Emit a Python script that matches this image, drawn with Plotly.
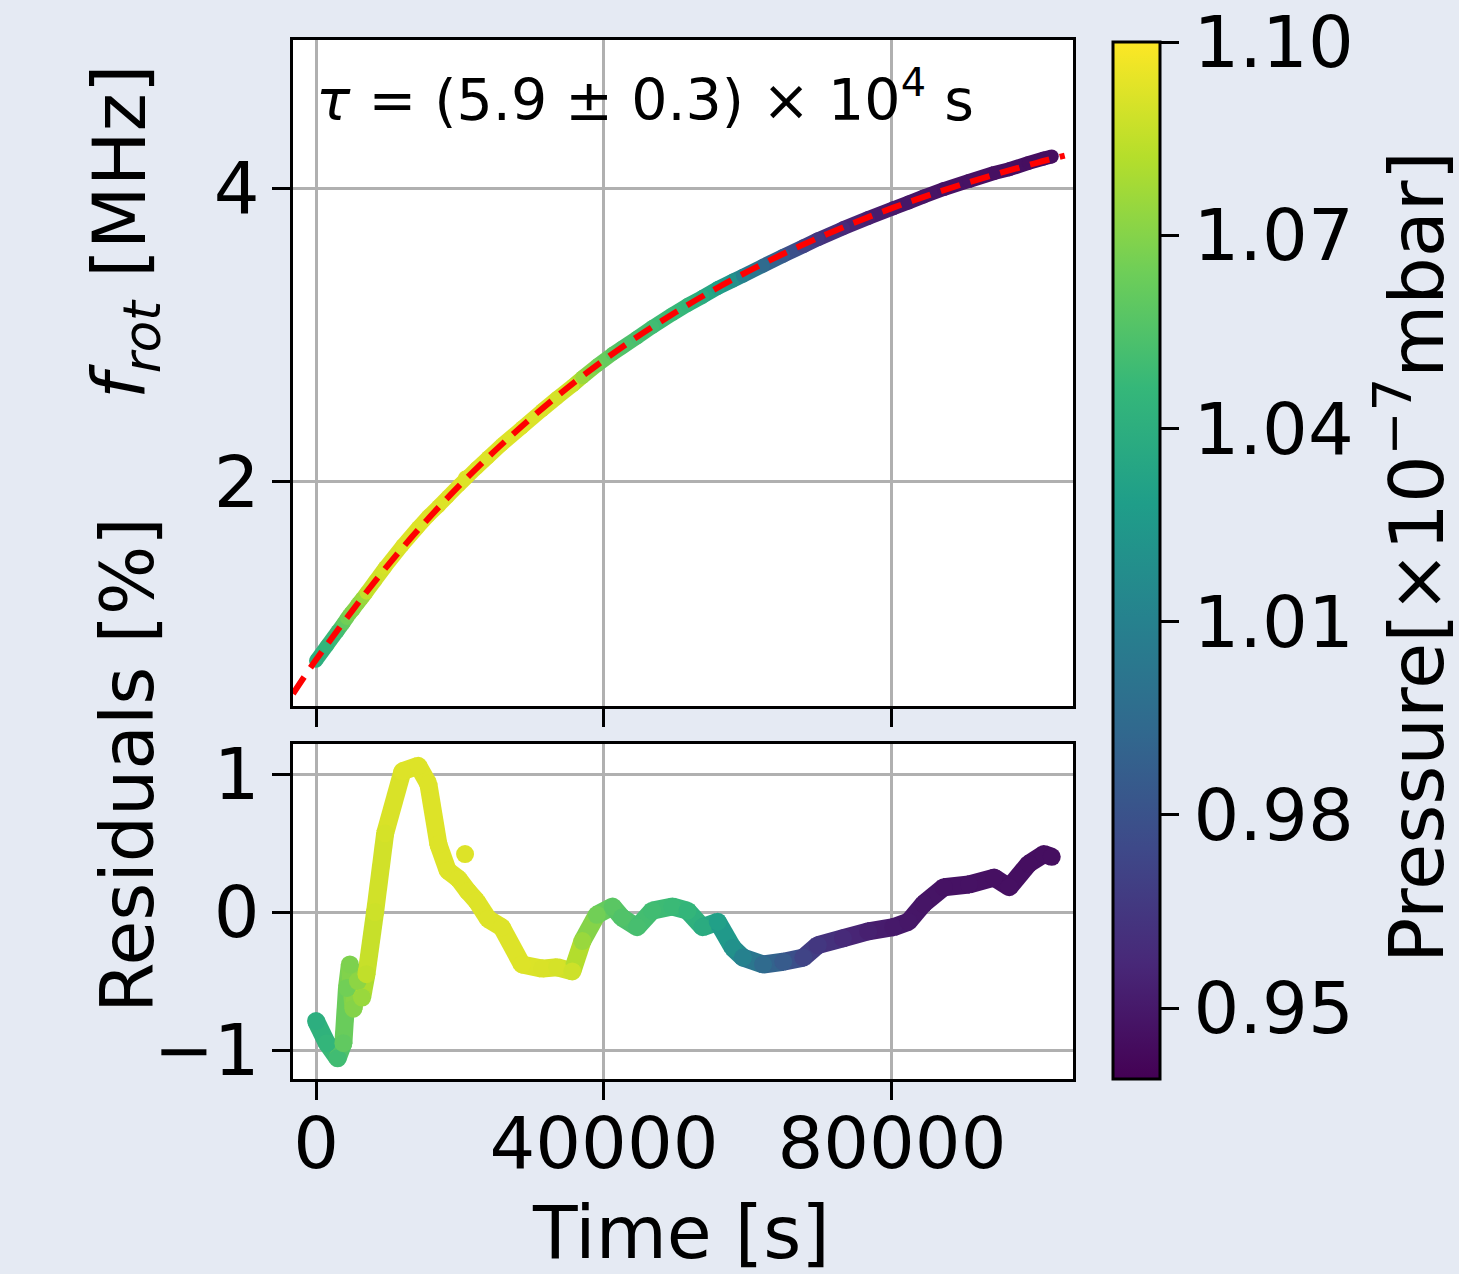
import plotly.graph_objects as go
from plotly.colors import sample_colorscale

# ---------------- data ----------------
time_s = [0, 1500, 3000, 3800, 4300, 4700, 5200, 5800, 6400, 7000, 8200, 9600,
          12000, 14200, 15600, 17000, 18300, 19800, 21100, 22300, 23900, 25800,
          28600, 31400, 33500, 35600, 37000, 39000, 41200, 42500, 44600, 46700,
          49500, 51600, 53700, 55800, 57900, 59300, 62100, 64900, 67700, 69700,
          73200, 76700, 80200, 82300, 84400, 87200, 90700, 94200, 96300, 99000,
          101100, 102200]
f_rot_mhz = [0.784, 0.885, 0.985, 1.038, 1.075, 1.103, 1.131, 1.172, 1.208, 1.247,
             1.327, 1.420, 1.568, 1.693, 1.768, 1.835, 1.900, 1.975, 2.038, 2.095,
             2.168, 2.254, 2.371, 2.488, 2.573, 2.654, 2.713, 2.792, 2.872, 2.914,
             2.983, 3.054, 3.142, 3.204, 3.260, 3.320, 3.370, 3.403, 3.472, 3.539,
             3.604, 3.651, 3.726, 3.796, 3.862, 3.901, 3.942, 3.993, 4.048, 4.102,
             4.128, 4.171, 4.201, 4.214]
residual_pct = [-0.79, -0.95, -1.06, -0.95, -0.55, -0.38, -0.70, -0.50, -0.62, -0.45,
                0.00, 0.57, 1.02, 1.06, 0.93, 0.49, 0.30, 0.24, 0.15, 0.08,
                -0.05, -0.11, -0.38, -0.41, -0.40, -0.43, -0.21, -0.02, 0.04, -0.04,
                -0.11, 0.01, 0.04, 0.01, -0.11, -0.07, -0.26, -0.33, -0.38, -0.36,
                -0.33, -0.24, -0.19, -0.14, -0.11, -0.07, 0.06, 0.18, 0.20, 0.25,
                0.18, 0.35, 0.42, 0.40]
pressure = [1.040, 1.045, 1.050, 1.060, 1.065, 1.068, 1.070, 1.072, 1.075, 1.085,
            1.088, 1.090, 1.092, 1.092, 1.092, 1.092, 1.092, 1.092, 1.092, 1.092,
            1.092, 1.092, 1.092, 1.091, 1.090, 1.088, 1.075, 1.065, 1.058, 1.055,
            1.052, 1.050, 1.048, 1.045, 1.038, 1.030, 1.020, 1.010, 0.995, 0.985,
            0.972, 0.965, 0.958, 0.953, 0.950, 0.949, 0.948, 0.947, 0.947, 0.946,
            0.946, 0.945, 0.945, 0.945]

# isolated outlier point
out_time = [20700]
out_f = [2.030]
out_res = [0.42]
out_p = [1.092]

# fitted curve (tau = 5.9e4 s)
fit_time = [-3200, 0, 10000, 20000, 30000, 40000, 50000, 60000, 70000, 80000,
            90000, 100000, 104000]
fit_f = [0.559, 0.79, 1.435, 1.98, 2.44, 2.83, 3.156, 3.433, 3.666, 3.863,
         4.029, 4.17, 4.22]

x_ticks = [0, 40000, 80000]
x_ticktext = ["0", "40000", "80000"]
top_yticks = [2, 4]
bot_yticks = [-1, 0, 1]
bot_yticktext = ["\u22121", "0", "1"]
cbar_ticks = [0.95, 0.98, 1.01, 1.04, 1.07, 1.10]
cbar_ticktext = ["0.95", "0.98", "1.01", "1.04", "1.07", "1.10"]

# ---------------- styling ----------------
W, H = 1459, 1274
CMIN, CMAX = 0.939, 1.10
FONT = "DejaVu Sans"
BG = "#e5eaf3"


def px_x(p):
    return p / W


def px_y(p):
    return 1 - p / H


def vcol(p):
    v = (p - CMIN) / (CMAX - CMIN)
    v = min(max(v, 0), 1)
    return sample_colorscale("Viridis", [v])[0]


fig = go.Figure()

# colored thick lines made of segments (top: xaxis/yaxis, bottom: xaxis2/yaxis2)
for panel, yvals, w in (("top", f_rot_mhz, 14), ("bot", residual_pct, 18)):
    xa, ya = ("x", "y") if panel == "top" else ("x2", "y2")
    for i in range(len(time_s) - 1):
        c = vcol((pressure[i] + pressure[i + 1]) / 2)
        fig.add_trace(go.Scatter(
            x=[time_s[i], time_s[i + 1]], y=[yvals[i], yvals[i + 1]],
            mode="lines", line=dict(color=c, width=w),
            xaxis=xa, yaxis=ya, showlegend=False, hoverinfo="skip"))
    fig.add_trace(go.Scatter(
        x=time_s + out_time, y=yvals + (out_f if panel == "top" else out_res),
        mode="markers", xaxis=xa, yaxis=ya, showlegend=False,
        marker=dict(size=w, color=pressure + out_p, colorscale="Viridis",
                    cmin=CMIN, cmax=CMAX, line=dict(width=0),
                    showscale=(panel == "top"),
                    colorbar=dict(
                        x=px_x(1113), xanchor="left", xpad=0,
                        y=px_y(560.5), yanchor="middle", ypad=0,
                        len=1037, lenmode="pixels",
                        thickness=47, thicknessmode="pixels",
                        outlinecolor="black", outlinewidth=3,
                        tickmode="array", tickvals=cbar_ticks,
                        ticktext=cbar_ticktext,
                        ticks="outside", ticklen=18, tickwidth=3,
                        tickcolor="black",
                        tickfont=dict(family=FONT, size=72, color="black"),
                    ))))

# fitted red dashed line
fig.add_trace(go.Scatter(
    x=fit_time, y=fit_f, mode="lines", line_shape="spline",
    line=dict(color="#ff0000", width=6, dash="20px,11px"),
    xaxis="x", yaxis="y", showlegend=False, hoverinfo="skip"))

axis_common = dict(
    showline=True, mirror=True, linecolor="black", linewidth=3,
    ticks="outside", ticklen=18, tickwidth=3, tickcolor="black",
    showgrid=True, gridcolor="#b0b0b0", gridwidth=3, zeroline=False,
    tickfont=dict(family=FONT, size=72, color="black"),
    automargin=False,
)
xdom = [px_x(293), px_x(1073)]
xrange_ = [-3200, 105150]

fig.update_layout(
    width=W, height=H,
    margin=dict(l=0, r=0, t=0, b=0),
    paper_bgcolor=BG, plot_bgcolor="white",
    font=dict(family=FONT, color="black"),
    xaxis=dict(domain=xdom, range=xrange_, tickmode="array", tickvals=x_ticks,
               showticklabels=False, anchor="y", ticklabelstandoff=-18,
               **axis_common),
    yaxis=dict(domain=[px_y(706), px_y(40)], range=[0.476, 5.007],
               tickmode="array", tickvals=top_yticks, anchor="x",
               ticklabelstandoff=-2, **axis_common),
    xaxis2=dict(domain=xdom, range=xrange_, tickmode="array", tickvals=x_ticks,
                ticktext=x_ticktext, anchor="y2", ticklabelstandoff=-18,
                **axis_common),
    yaxis2=dict(domain=[px_y(1079), px_y(744)], range=[-1.21, 1.218],
                tickmode="array", tickvals=bot_yticks, ticktext=bot_yticktext,
                anchor="x2", ticklabelstandoff=-2, **axis_common),
)

ann = [
    dict(text="<i>\u03c4</i> = (5.9 \u00b1 0.3) \u00d7 10<sup>4</sup> s",
         x=px_x(314), y=px_y(96), xanchor="left", yanchor="middle",
         font=dict(size=57)),
    dict(text="<i>f</i><sub><i>rot</i></sub> [MHz]", x=px_x(125), y=px_y(232),
         textangle=-90, xanchor="center", yanchor="middle", font=dict(size=73)),
    dict(text="Residuals [%]", x=px_x(127), y=px_y(765), textangle=-90,
         xanchor="center", yanchor="middle", font=dict(size=73)),
    dict(text="Time [s]", x=px_x(681), y=px_y(1232), xanchor="center",
         yanchor="middle", font=dict(size=73)),
    dict(text="Pressure[\u00d710<sup>\u22127</sup>mbar]", x=px_x(1411),
         y=px_y(557), textangle=-90, xanchor="center", yanchor="middle",
         font=dict(size=75)),
]
for a in ann:
    a.update(xref="paper", yref="paper", showarrow=False)
    a["font"].update(family=FONT, color="black")
fig.update_layout(annotations=ann)

fig.write_html(
    "out.html",
    config={"displayModeBar": False},
    post_script="document.body.style.margin='0';"
                "document.body.style.background='#e5eaf3';")
